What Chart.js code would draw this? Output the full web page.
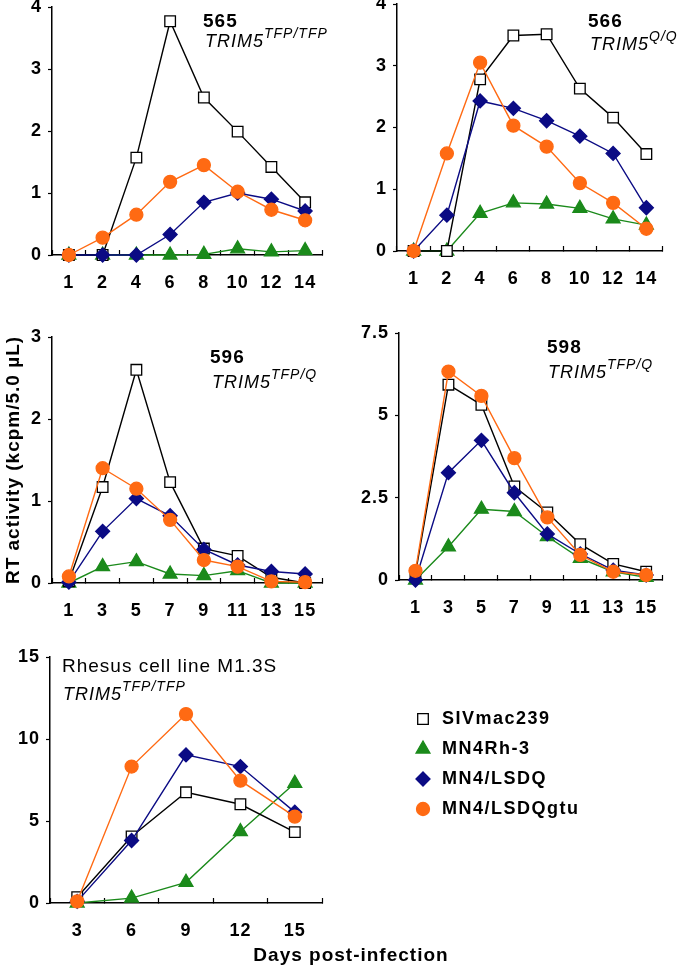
<!DOCTYPE html>
<html>
<head>
<meta charset="utf-8">
<script src="https://cdn.jsdelivr.net/npm/chart.js@4.4.1/dist/chart.umd.min.js"></script>
<style>
  html, body { margin: 0; padding: 0; background: #fff; }
  #fig { position: relative; width: 680px; height: 968px; overflow: hidden; }
  .panel { position: absolute; }
</style>
</head>
<body>
<div id="fig">
  <div class="panel" style="left:0;top:-13px;width:340px;height:310px"><canvas id="c565"></canvas></div>
  <div class="panel" style="left:340px;top:-16px;width:340px;height:310px"><canvas id="c566"></canvas></div>
  <div class="panel" style="left:0;top:317px;width:340px;height:310px"><canvas id="c596"></canvas></div>
  <div class="panel" style="left:340px;top:313px;width:340px;height:310px"><canvas id="c598"></canvas></div>
  <div class="panel" style="left:0;top:637px;width:680px;height:331px"><canvas id="cM13"></canvas></div>
</div>
<script>
// nama virus (urutan legenda)
const seriesNames = ['SIVmac239', 'MN4Rh-3', 'MN4/LSDQ', 'MN4/LSDQgtu'];

// Monyet 565 TRIM5 TFP/TFP
const days565 = ['1', '2', '4', '6', '8', '10', '12', '14'];
const siv565  = [0, 0, 1.57, 3.77, 2.54, 1.99, 1.42, 0.85];
const rh3_565 = [0, 0, 0, 0, 0.01, 0.10, 0.05, 0.07];
const lsdq565 = [0, 0, 0, 0.33, 0.85, 1.00, 0.90, 0.71];
const gtu565  = [0, 0.28, 0.65, 1.18, 1.45, 1.02, 0.73, 0.56];

// Monyet 566 TRIM5 Q/Q
const days566 = ['1', '2', '4', '6', '8', '10', '12', '14'];
const siv566  = [0, 0, 2.78, 3.49, 3.51, 2.63, 2.16, 1.57];
const rh3_566 = [0, 0, 0.61, 0.78, 0.76, 0.69, 0.52, 0.42];
const lsdq566 = [0, 0.58, 2.43, 2.31, 2.11, 1.86, 1.58, 0.70];
const gtu566  = [0, 1.58, 3.05, 2.03, 1.69, 1.10, 0.78, 0.36];

// Monyet 596 TRIM5 TFP/Q
const days596 = ['1', '3', '5', '7', '9', '11', '13', '15'];
const siv596  = [0.02, 1.17, 2.60, 1.23, 0.42, 0.33, 0.07, 0];
const rh3_596 = [0, 0.20, 0.26, 0.11, 0.09, 0.15, 0, 0];
const lsdq596 = [0.01, 0.63, 1.03, 0.82, 0.41, 0.22, 0.14, 0.11];
const gtu596  = [0.08, 1.40, 1.15, 0.77, 0.28, 0.20, 0.02, 0.01];

// Monyet 598 TRIM5 TFP/Q
const days598 = ['1', '3', '5', '7', '9', '11', '13', '15'];
const siv598  = [0.20, 5.93, 5.32, 2.84, 2.05, 1.09, 0.49, 0.25];
const rh3_598 = [0, 1.01, 2.15, 2.08, 1.32, 0.66, 0.25, 0.08];
const lsdq598 = [0, 3.26, 4.24, 2.65, 1.40, 0.79, 0.30, 0.15];
const gtu598  = [0.28, 6.33, 5.59, 3.70, 1.90, 0.76, 0.25, 0.15];

// Sel rhesus M1.3S
const daysM13 = ['3', '6', '9', '12', '15'];
const sivM13  = [0.35, 4.06, 6.75, 6.02, 4.32];
const rh3M13  = [0, 0.30, 1.26, 4.36, 7.30];
const lsdqM13 = [0.10, 3.81, 9.03, 8.32, 5.54];
const gtuM13  = [0.10, 8.32, 11.52, 7.46, 5.27];

// gaya tiap seri
const seriesStyles = [
  { color: '#000000', fill: '#ffffff', pointStyle: 'rect',     radius: 7.5, order: 3 },
  { color: '#1b8a1b', fill: '#1b8a1b', pointStyle: 'triangle', radius: 8,   order: 4 },
  { color: '#0b0b84', fill: '#0b0b84', pointStyle: 'rectRot',  radius: 7,   order: 2 },
  { color: '#ff6a13', fill: '#ff6a13', pointStyle: 'circle',   radius: 6.5, order: 1 }
];

// huruf sedikit renggang seperti gambar asli
Chart.register({
  id: 'spacing',
  beforeLayout(c) { c.ctx.letterSpacing = '1px'; },
  beforeDraw(c) { c.ctx.letterSpacing = '1px'; }
});

// teks label di dalam panel (nomor hewan, genotipe)
function notesPlugin(items) {
  return {
    id: 'notes',
    afterDraw(chart) {
      const ctx = chart.ctx;
      const { left, top } = chart.chartArea;
      ctx.save();
      ctx.fillStyle = '#000';
      ctx.textBaseline = 'middle';
      for (const n of items) {
        ctx.font = n.font;
        ctx.textAlign = n.align || 'left';
        ctx.fillText(n.text, left + n.dx, top + n.dy);
        if (n.sup) {
          const w = ctx.measureText(n.text).width;
          ctx.font = n.supFont;
          ctx.textAlign = 'left';
          ctx.fillText(n.sup, left + n.dx + w, top + n.dy - 8);
        }
      }
      ctx.restore();
    }
  };
}

// legenda di samping panel terakhir
function sideLegendPlugin(pos) {
  return {
    id: 'sideLegend',
    afterDraw(chart) {
      const ctx = chart.ctx;
      const { left, top } = chart.chartArea;
      ctx.save();
      chart.data.datasets.forEach((ds, i) => {
        const y = top + pos.dy + i * pos.gap;
        ctx.fillStyle = ds.pointBackgroundColor;
        ctx.strokeStyle = ds.pointBorderColor;
        ctx.lineWidth = 1.3;
        Chart.helpers.drawPoint(ctx, {
          pointStyle: ds.pointStyle, radius: ds.pointRadius, borderWidth: 1.3, rotation: 0
        }, left + pos.dx, y);
        ctx.fillStyle = '#000';
        ctx.font = 'bold 18px Arial, "Liberation Sans", sans-serif';
        ctx.letterSpacing = '1.5px';
        ctx.textAlign = 'left';
        ctx.textBaseline = 'middle';
        ctx.fillText(ds.label, left + pos.textDx, y);
      });
      ctx.restore();
    }
  };
}

const tickFont = { family: 'Arial, "Liberation Sans", sans-serif', size: 18, weight: 'bold' };

function makePanel(id, days, values, cfg) {
  const datasets = values.map((v, i) => {
    const s = seriesStyles[i];
    return {
      label: seriesNames[i],
      data: v,
      borderColor: s.color,
      borderWidth: 1.4,
      pointStyle: s.pointStyle,
      pointRadius: s.radius,
      pointHoverRadius: s.radius,
      pointBackgroundColor: s.fill,
      pointBorderColor: s.color,
      pointBorderWidth: 1.3,
      order: s.order,
      clip: false,
      tension: 0
    };
  });
  const plugins = [notesPlugin(cfg.notes)];
  if (cfg.legend) plugins.push(sideLegendPlugin(cfg.legend));

  return new Chart(document.getElementById(id), {
    type: 'line',
    data: { labels: days, datasets },
    plugins,
    options: {
      responsive: true,
      maintainAspectRatio: false,
      animation: false,
      events: [],
      layout: { padding: cfg.pad },
      plugins: { legend: { display: false }, tooltip: { enabled: false } },
      scales: {
        x: {
          type: 'category',
          offset: true,
          grid: { offset: true, drawOnChartArea: false, tickLength: -5, color: '#000', tickWidth: 1.2 },
          border: { color: '#000', width: 1.5 },
          ticks: { color: '#000', font: tickFont, padding: 22, maxRotation: 0, autoSkip: false },
          afterFit(s) { s.height = cfg.xAxisH; }
        },
        y: {
          min: 0,
          max: cfg.yMax,
          grid: { drawOnChartArea: false, tickLength: 4, color: '#000', tickWidth: 1.2 },
          border: { color: '#000', width: 1.5 },
          ticks: { stepSize: cfg.yStep, color: '#000', font: tickFont, padding: 6 },
          title: cfg.yTitle ? {
            display: true, text: cfg.yTitle, color: '#000',
            font: { family: 'Arial, "Liberation Sans", sans-serif', size: 19, weight: 'bold' },
            padding: { top: 2, bottom: 0 }
          } : { display: false },
          afterFit(s) { s.width = cfg.yAxisW; }
        }
      }
    }
  });
}

const numFont = 'bold 19px Arial, "Liberation Sans", sans-serif';
const genoFont = 'italic 18px Arial, "Liberation Sans", sans-serif';
const supFont = 'italic 14px Arial, "Liberation Sans", sans-serif';

makePanel('c565', days565, [siv565, rh3_565, lsdq565, gtu565], {
  yMax: 4, yStep: 1, yAxisW: 52, xAxisH: 42,
  pad: { top: 20, right: 18, bottom: 0, left: 0 },
  notes: [
    { text: '565', dx: 151, dy: 15, font: numFont },
    { text: 'TRIM5', dx: 153, dy: 35, font: genoFont, sup: 'TFP/TFP', supFont }
  ]
});

makePanel('c566', days566, [siv566, rh3_566, lsdq566, gtu566], {
  yMax: 4, yStep: 1, yAxisW: 57, xAxisH: 43,
  pad: { top: 20, right: 10, bottom: 0, left: 0 },
  notes: [
    { text: '566', dx: 191, dy: 18, font: numFont },
    { text: 'TRIM5', dx: 193, dy: 41, font: genoFont, sup: 'Q/Q', supFont }
  ]
});

makePanel('c596', days596, [siv596, rh3_596, lsdq596, gtu596], {
  yMax: 3, yStep: 1, yAxisW: 52, xAxisH: 44,
  pad: { top: 20, right: 18, bottom: 0, left: 0 },
  yTitle: 'RT activity (kcpm/5.0 µL)',
  notes: [
    { text: '596', dx: 158, dy: 21, font: numFont },
    { text: 'TRIM5', dx: 160, dy: 46, font: genoFont, sup: 'TFP/Q', supFont }
  ]
});

makePanel('c598', days598, [siv598, rh3_598, lsdq598, gtu598], {
  yMax: 7.5, yStep: 2.5, yAxisW: 59, xAxisH: 43,
  pad: { top: 20, right: 13, bottom: 0, left: 0 },
  notes: [
    { text: '598', dx: 148, dy: 15, font: numFont },
    { text: 'TRIM5', dx: 149, dy: 40, font: genoFont, sup: 'TFP/Q', supFont }
  ]
});

makePanel('cM13', daysM13, [sivM13, rh3M13, lsdqM13, gtuM13], {
  yMax: 15, yStep: 5, yAxisW: 50, xAxisH: 65,
  pad: { top: 20, right: 358, bottom: 0, left: 0 },
  notes: [
    { text: 'Rhesus cell line M1.3S', dx: 12, dy: 10, font: '19px Arial, "Liberation Sans", sans-serif' },
    { text: 'TRIM5', dx: 13, dy: 38, font: genoFont, sup: 'TFP/TFP', supFont },
    { text: 'Days post-infection', dx: 301, dy: 299, font: 'bold 19px Arial, "Liberation Sans", sans-serif', align: 'center' }
  ],
  legend: { dx: 373, textDx: 392, dy: 62, gap: 30 }
});
</script>
</body>
</html>
